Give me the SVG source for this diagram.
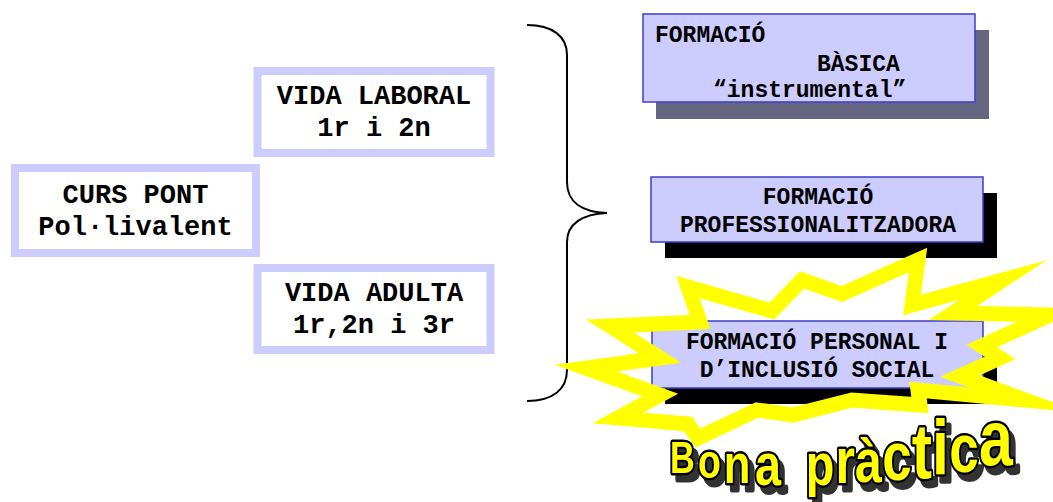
<svg xmlns="http://www.w3.org/2000/svg" width="1053" height="502" viewBox="0 0 1053 502">
<defs>
<style>
.lnode{fill:#ffffff;stroke:#ccccff;stroke-width:8}
.rbox{fill:#ccccff;stroke:#3c3ccc;stroke-width:1.5}
.shadow{fill:#000000}
.mono{font-family:"Liberation Mono","Courier New",monospace;font-weight:bold;fill:#000000}
.l{font-size:27px;text-anchor:middle}
.r{font-size:23px}
.c{text-anchor:middle}
.brace{fill:none;stroke:#000000;stroke-width:2}
.star{fill:none;stroke:#ffff00;stroke-width:15;stroke-linejoin:miter;stroke-miterlimit:10}
.wa{font-family:"Liberation Sans",Arial,sans-serif;font-weight:bold;fill:#ffff00;stroke:#000000;stroke-width:5;paint-order:stroke;stroke-linejoin:round}
</style>
<filter id="ds" x="-10%" y="-30%" width="130%" height="170%">
<feOffset in="SourceAlpha" dx="7" dy="7" result="o"/>
<feFlood flood-color="#333333"/>
<feComposite in2="o" operator="in" result="s"/>
<feMerge><feMergeNode in="s"/><feMergeNode in="SourceGraphic"/></feMerge>
</filter>
</defs>
<rect width="1053" height="502" fill="#ffffff"/>

<g id="curs-pont">
<rect class="lnode" x="15" y="168" width="241" height="85"/>
<text class="mono l" x="135.5" y="203">CURS PONT</text>
<text class="mono l" x="135.5" y="235">Pol·livalent</text>
</g>
<g id="vida-laboral">
<rect class="lnode" x="257.5" y="71" width="233" height="82"/>
<text class="mono l" x="374" y="104">VIDA LABORAL</text>
<text class="mono l" x="374" y="136">1r i 2n</text>
</g>
<g id="vida-adulta">
<rect class="lnode" x="257.5" y="268" width="233" height="82"/>
<text class="mono l" x="374" y="301">VIDA ADULTA</text>
<text class="mono l" x="374" y="333">1r,2n i 3r</text>
</g>

<g id="connectors">
<path class="brace" d="M527,25 C552,25 567,36 567,55 L567,182 C567,202 582,212 607,213 C582,214 567,224 567,242 L567,370 C567,390 552,401 527,401"/>
</g>

<g id="formacio-basica">
<rect x="656" y="30" width="333" height="89" fill="#666680"/>
<rect class="rbox" x="643" y="14" width="332" height="88"/>
<text class="mono r" x="655" y="42">FORMACIÓ</text>
<text class="mono r" x="817" y="71">BÀSICA</text>
<text class="mono r" x="713" y="97">“instrumental”</text>
</g>
<g id="formacio-professionalitzadora">
<rect class="shadow" x="665" y="193" width="332" height="65"/>
<rect class="rbox" x="651" y="177" width="332" height="65"/>
<text class="mono r c" x="818" y="204">FORMACIÓ</text>
<text class="mono r c" x="818" y="232">PROFESSIONALITZADORA</text>
</g>
<g id="formacio-personal">
<rect class="shadow" x="665" y="337" width="332" height="67"/>
<rect class="rbox" x="652" y="321" width="331" height="67"/>
<text class="mono r c" x="817" y="349">FORMACIÓ PERSONAL I</text>
<text class="mono r c" x="817" y="377">D’INCLUSIÓ SOCIAL</text>
</g>

<g id="starburst">
<polygon class="star" points="688,287 772,311 802,280 842,294 918,260 912,305 1003,280 953,313 1050,315 982,346 1000,358 960,376 1025,400 918,390 920,405 852,400 793,415 757,410 698,438 688,424 618,418 660,395 586,368 660,358 610,326 700,322"/>
</g>

<g id="bona-practica">
<text class="wa" transform="scale(0.78,1)" filter="url(#ds)"><tspan x="859" y="473" font-size="44">B</tspan><tspan x="895" y="478" font-size="48">o</tspan><tspan x="928" y="483" font-size="56">n</tspan><tspan x="968" y="485" font-size="60">a</tspan> <tspan x="1033" y="485" font-size="60">p</tspan><tspan x="1071" y="483" font-size="64">r</tspan><tspan x="1096" y="482" font-size="62">à</tspan><tspan x="1131" y="480" font-size="68">c</tspan><tspan x="1169" y="478" font-size="78">t</tspan><tspan x="1195" y="475" font-size="78">i</tspan><tspan x="1217" y="472" font-size="68">c</tspan><tspan x="1255" y="465" font-size="78">a</tspan></text>
</g>
</svg>
